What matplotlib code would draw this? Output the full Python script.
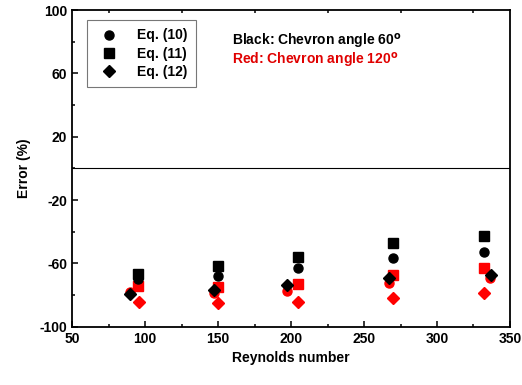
import matplotlib.pyplot as plt
from matplotlib.ticker import MultipleLocator

plt.rcParams['font.family'] = ['Liberation Sans', 'DejaVu Sans']
plt.rcParams['font.weight'] = 'bold'
plt.rcParams['axes.unicode_minus'] = False

# Chevron angle 60 (black)
re_60_sq = [95, 150, 205, 270, 332]
eq11_60 = [-66.7, -61.5, -55.6, -47.2, -42.6]
re_60_ci = [95, 150, 205, 270, 332]
eq10_60 = [-70, -67.8, -63, -56.3, -52.5]
re_60_di = [90, 147, 197, 267, 337]
eq12_60 = [-79, -77, -73.5, -69.3, -67.2]

# Chevron angle 120 (red)
re_120_sq = [95, 150, 205, 270, 332]
eq11_120 = [-74, -74.6, -72.9, -67.2, -63]
re_120_ci = [90, 147, 197, 267, 336]
eq10_120 = [-78, -78.7, -77.3, -72.4, -69.3]
re_120_di = [96, 150, 205, 270, 332]
eq12_120 = [-84, -84.7, -84, -81.5, -78.7]

y_ticks = [-100, -60, -20, 20, 60, 100]

fig = plt.figure(figsize=(5.22, 3.85), dpi=100)
ax = fig.add_axes([0.138, 0.151, 0.839, 0.823])

ax.axhline(0, color='black', lw=0.8)

red = '#ff0000'
ax.plot(re_120_ci, eq10_120, 'o', color=red, ms=6.5, ls='none')
ax.plot(re_120_sq, eq11_120, 's', color=red, ms=6.5, ls='none')
ax.plot(re_120_di, eq12_120, 'D', color=red, ms=6.5, ls='none')
h1, = ax.plot(re_60_ci, eq10_60, 'o', color='black', ms=6.5, ls='none', label='Eq. (10)')
h2, = ax.plot(re_60_sq, eq11_60, 's', color='black', ms=6.5, ls='none', label='Eq. (11)')
h3, = ax.plot(re_60_di, eq12_60, 'D', color='black', ms=6.5, ls='none', label='Eq. (12)')

ax.set_xlim(50, 350)
ax.set_ylim(-100, 100)
ax.xaxis.set_major_locator(MultipleLocator(50))
ax.xaxis.set_minor_locator(MultipleLocator(25))
ax.set_yticks(y_ticks)
ax.yaxis.set_minor_locator(MultipleLocator(20))
for s in ax.spines.values():
    s.set_linewidth(1.3)
ax.tick_params(which='both', direction='in', right=False, labelsize=10, width=1.1)
ax.tick_params(which='major', length=4, top=False)
ax.tick_params(which='minor', length=2.5, top=True)
for lab in ax.get_xticklabels() + ax.get_yticklabels():
    lab.set_fontweight('bold')

ax.set_xlabel('Reynolds number', fontsize=10, fontweight='bold')
ax.set_ylabel('Error (%)', fontsize=10, fontweight='bold', labelpad=6)

leg = ax.legend(handles=[h1, h2, h3], loc='upper left', bbox_to_anchor=(0.034, 0.968),
                borderaxespad=0, fancybox=False, edgecolor='#555555', handletextpad=1.0,
                borderpad=0.6, labelspacing=0.3, prop={'weight': 'bold', 'size': 10})
leg.get_frame().set_linewidth(0.8)

ax.text(0.365, 0.9, r'Black: Chevron angle 60$^\mathbf{o}$', transform=ax.transAxes,
        fontsize=10, fontweight='bold', color='black', va='center')
ax.text(0.365, 0.842, r'Red: Chevron angle 120$^\mathbf{o}$', transform=ax.transAxes,
        fontsize=10, fontweight='bold', color='#e00000', va='center')

fig.savefig('out.png', dpi=100)
